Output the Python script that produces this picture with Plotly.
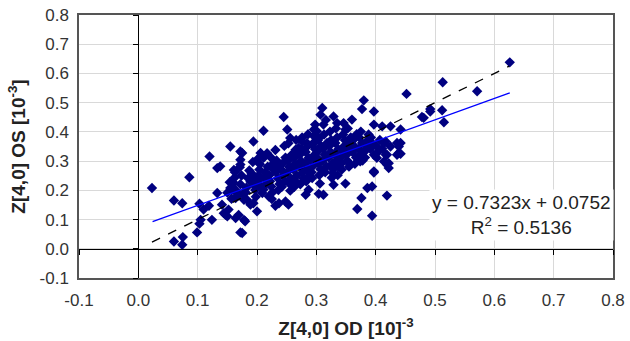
import plotly.graph_objects as go

# Scattered (outer) points: (Z[4,0] OD, Z[4,0] OS)
sparse_pts = [
    (0.023, 0.208), (0.060, 0.165), (0.074, 0.156), (0.086, 0.245), (0.060, 0.025),
    (0.074, 0.014), (0.075, 0.040), (0.099, 0.056), (0.103, 0.086), (0.105, 0.099),
    (0.103, 0.154), (0.110, 0.134), (0.119, 0.147), (0.124, 0.099), (0.133, 0.191),
    (0.138, 0.282), (0.120, 0.316), (0.133, 0.276), (0.155, 0.350), (0.172, 0.333),
    (0.161, 0.270), (0.172, 0.288), (0.194, 0.367), (0.211, 0.404), (0.245, 0.451),
    (0.251, 0.408), (0.256, 0.379), (0.206, 0.328), (0.211, 0.311), (0.155, 0.208),
    (0.161, 0.225), (0.180, 0.094), (0.175, 0.054), (0.194, 0.156), (0.200, 0.128),
    (0.183, 0.168), (0.164, 0.105), (0.169, 0.116), (0.150, 0.111), (0.144, 0.122),
    (0.141, 0.151), (0.147, 0.116), (0.152, 0.134), (0.158, 0.202), (0.164, 0.174),
    (0.310, 0.482), (0.307, 0.459), (0.312, 0.425), (0.298, 0.425), (0.301, 0.402),
    (0.296, 0.385), (0.304, 0.379), (0.276, 0.367), (0.284, 0.362), (0.265, 0.339),
    (0.270, 0.345), (0.293, 0.356), (0.175, 0.328), (0.172, 0.305), (0.452, 0.530),
    (0.380, 0.508), (0.377, 0.478), (0.397, 0.470), (0.360, 0.442), (0.397, 0.425),
    (0.411, 0.419), (0.425, 0.419), (0.478, 0.451), (0.492, 0.470), (0.442, 0.408),
    (0.442, 0.362), (0.439, 0.328), (0.425, 0.350), (0.329, 0.453), (0.335, 0.430),
    (0.346, 0.430), (0.349, 0.408), (0.397, 0.261), (0.422, 0.276), (0.419, 0.288),
    (0.349, 0.223), (0.386, 0.208), (0.394, 0.213), (0.376, 0.174), (0.419, 0.182),
    (0.369, 0.136), (0.394, 0.113), (0.328, 0.259), (0.329, 0.219), (0.335, 0.282),
    (0.355, 0.293), (0.374, 0.299), (0.414, 0.299), (0.172, 0.056), (0.178, 0.099),
    (0.189, 0.151), (0.231, 0.147), (0.237, 0.156), (0.225, 0.170), (0.220, 0.179),
    (0.282, 0.185), (0.287, 0.202), (0.304, 0.188), (0.312, 0.185), (0.248, 0.162),
    (0.253, 0.151), (0.166, 0.190), (0.626, 0.638), (0.513, 0.570), (0.571, 0.539),
    (0.492, 0.478), (0.512, 0.474), (0.481, 0.448), (0.515, 0.433), (0.436, 0.362),
    (0.439, 0.350), (0.436, 0.322), (0.442, 0.325), (0.417, 0.367), (0.419, 0.322),
    (0.422, 0.293), (0.397, 0.265),
]

# Dense central cloud
core_pts = [
    (0.150, 0.192), (0.154, 0.228), (0.157, 0.171), (0.159, 0.210),
    (0.162, 0.243), (0.165, 0.199), (0.168, 0.182), (0.163, 0.262),
    (0.172, 0.221), (0.176, 0.188), (0.174, 0.251), (0.178, 0.168), (0.171, 0.279),
    (0.182, 0.209), (0.185, 0.241), (0.187, 0.268), (0.181, 0.193), (0.189, 0.229),
    (0.191, 0.258), (0.194, 0.219), (0.197, 0.201), (0.193, 0.297), (0.198, 0.178), (0.195, 0.240),
    (0.201, 0.232), (0.204, 0.271), (0.207, 0.212), (0.203, 0.252), (0.209, 0.191), (0.205, 0.289), (0.202, 0.309),
    (0.212, 0.241), (0.215, 0.222), (0.218, 0.281), (0.214, 0.262), (0.211, 0.203), (0.217, 0.327),
    (0.221, 0.252), (0.224, 0.213), (0.227, 0.291), (0.222, 0.231), (0.228, 0.271), (0.226, 0.193), (0.223, 0.313),
    (0.232, 0.262), (0.235, 0.241), (0.238, 0.222), (0.233, 0.302), (0.237, 0.283), (0.231, 0.338), (0.236, 0.201),
    (0.241, 0.271), (0.244, 0.251), (0.247, 0.232), (0.243, 0.292), (0.248, 0.312), (0.242, 0.212), (0.246, 0.352),
    (0.251, 0.262), (0.254, 0.281), (0.257, 0.241), (0.252, 0.301), (0.258, 0.321), (0.255, 0.222), (0.253, 0.361), (0.256, 0.199),
    (0.261, 0.272), (0.264, 0.291), (0.267, 0.251), (0.262, 0.311), (0.268, 0.331), (0.265, 0.231), (0.263, 0.212), (0.266, 0.372),
    (0.271, 0.282), (0.274, 0.301), (0.277, 0.262), (0.272, 0.322), (0.278, 0.241), (0.275, 0.342), (0.273, 0.221), (0.276, 0.381),
    (0.281, 0.291), (0.284, 0.271), (0.287, 0.311), (0.282, 0.331), (0.288, 0.251), (0.285, 0.351), (0.283, 0.231), (0.286, 0.392),
    (0.291, 0.301), (0.294, 0.282), (0.297, 0.322), (0.292, 0.262), (0.298, 0.341), (0.295, 0.362), (0.293, 0.242), (0.296, 0.408),
    (0.301, 0.312), (0.304, 0.292), (0.307, 0.272), (0.302, 0.332), (0.308, 0.352), (0.305, 0.252), (0.303, 0.372), (0.306, 0.223),
    (0.311, 0.302), (0.314, 0.322), (0.317, 0.282), (0.312, 0.342), (0.318, 0.362), (0.315, 0.262), (0.313, 0.391), (0.316, 0.441),
    (0.321, 0.312), (0.324, 0.331), (0.327, 0.292), (0.322, 0.352), (0.328, 0.272), (0.325, 0.372), (0.323, 0.401), (0.326, 0.243),
    (0.331, 0.322), (0.334, 0.302), (0.337, 0.341), (0.332, 0.362), (0.338, 0.282), (0.335, 0.381), (0.333, 0.412), (0.336, 0.252),
    (0.341, 0.312), (0.344, 0.332), (0.347, 0.352), (0.342, 0.292), (0.348, 0.372), (0.345, 0.391), (0.343, 0.271),
    (0.351, 0.322), (0.354, 0.342), (0.357, 0.362), (0.352, 0.302), (0.358, 0.381), (0.355, 0.281), (0.353, 0.412),
    (0.361, 0.331), (0.364, 0.351), (0.367, 0.312), (0.362, 0.371), (0.368, 0.392), (0.365, 0.291),
    (0.371, 0.342), (0.374, 0.322), (0.377, 0.362), (0.372, 0.382), (0.378, 0.302), (0.375, 0.401),
    (0.381, 0.332), (0.384, 0.351), (0.387, 0.372), (0.382, 0.312), (0.388, 0.391),
    (0.391, 0.342), (0.394, 0.362), (0.397, 0.322), (0.392, 0.381),
    (0.401, 0.352), (0.404, 0.331), (0.407, 0.372), (0.402, 0.311),
    (0.411, 0.342), (0.414, 0.361), (0.417, 0.322),
]

od_values = [p[0] for p in core_pts + sparse_pts]
os_values = [p[1] for p in core_pts + sparse_pts]

# Trend line (as labelled) and identity line
fit_slope = 0.7323
fit_intercept = 0.0752
fit_r2 = 0.5136
fit_x = [0.024, 0.626]
identity_x = [0.023, 0.625]

tick_vals = [-0.1, 0.0, 0.1, 0.2, 0.3, 0.4, 0.5, 0.6, 0.7, 0.8]
tick_text = ["-0.1", "0.0", "0.1", "0.2", "0.3", "0.4", "0.5", "0.6", "0.7", "0.8"]
axis_range = [-0.1, 0.8]

FONT = "Liberation Sans, Arial, sans-serif"

fig = go.Figure()
fig.add_trace(go.Scatter(
    x=od_values, y=os_values, mode="markers",
    marker=dict(symbol="diamond", size=8, color="#000080", line=dict(width=0)),
    showlegend=False, hoverinfo="skip",
))
fig.add_trace(go.Scatter(
    x=identity_x, y=identity_x, mode="lines",
    line=dict(color="black", width=1.3, dash="dash"), showlegend=False,
))
fig.add_trace(go.Scatter(
    x=fit_x, y=[fit_slope * v + fit_intercept for v in fit_x], mode="lines",
    line=dict(color="#0000ff", width=1.3), showlegend=False,
))
# invisible trace on the zero-line axes so they are rendered
fig.add_trace(go.Scatter(x=[None], y=[None], xaxis="x2", yaxis="y2",
                         mode="markers", showlegend=False))

zero_frac = (0 - axis_range[0]) / (axis_range[1] - axis_range[0])

fig.update_layout(
    width=630, height=341,
    margin=dict(l=79, r=17, t=15, b=63),
    paper_bgcolor="white", plot_bgcolor="white",
    font=dict(family=FONT, size=17, color="#333333"),
    xaxis=dict(
        range=axis_range, tickvals=tick_vals, ticktext=tick_text, automargin=False,
        showgrid=True, gridcolor="#d9d9d9", gridwidth=1,
        zeroline=False, showline=True, linecolor="#555555", linewidth=1.5, mirror=True,
        ticks="", ticklabelstandoff=6,
        title=dict(text="<b>Z[4,0] OD [10]<sup>-3</sup></b>", standoff=13,
                   font=dict(size=19, color="#222222")),
    ),
    yaxis=dict(
        range=axis_range, tickvals=tick_vals, ticktext=tick_text, automargin=False,
        showgrid=True, gridcolor="#d9d9d9", gridwidth=1,
        zeroline=False, showline=True, linecolor="#555555", linewidth=1.5, mirror=True,
        ticks="", ticklabelstandoff=5,
        title=dict(text="<b>Z[4,0] OS [10<sup>-3</sup>]</b>", standoff=9,
                   font=dict(size=19, color="#222222")),
    ),
    xaxis2=dict(
        overlaying="x", anchor="free", position=zero_frac, side="bottom",
        range=axis_range, tickvals=tick_vals, showticklabels=False, automargin=False,
        showgrid=False, zeroline=False, showline=True, linecolor="black", linewidth=1,
        ticks="outside", ticklen=5, tickcolor="black", tickwidth=1,
    ),
    yaxis2=dict(
        overlaying="y", anchor="free", position=zero_frac, side="left",
        range=axis_range, tickvals=tick_vals, showticklabels=False, automargin=False,
        showgrid=False, zeroline=False, showline=True, linecolor="black", linewidth=1,
        ticks="outside", ticklen=5, tickcolor="black", tickwidth=1,
    ),
    annotations=[dict(
        xref="paper", yref="paper", x=0.828, y=0.24, xanchor="center", yanchor="middle",
        text=f"y = {fit_slope:.4f}x + {fit_intercept:.4f}<br>R<sup>2</sup> = {fit_r2:.4f}",
        showarrow=False, align="center", bgcolor="white",
        font=dict(size=19, color="#222222"), borderpad=2,
    )],
)

fig.write_html("out.html")
